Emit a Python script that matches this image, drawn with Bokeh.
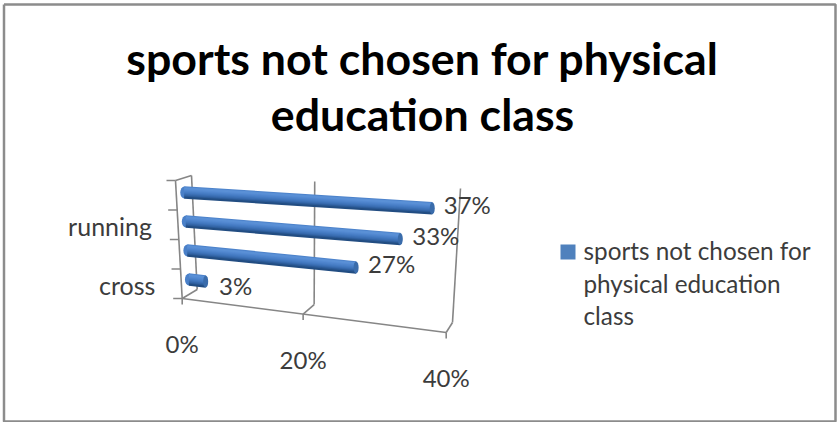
from bokeh.core.properties import value
from bokeh.embed import file_html
from bokeh.models import Range1d
from bokeh.plotting import figure
from bokeh.resources import INLINE

# Chart content
title_lines = ["sports not chosen for physical", "education class"]
categories = ["cross", "", "running", ""]
shares = [3, 27, 33, 37]
axis_ticks = [0, 20, 40]
legend_lines = ["sports not chosen for", "physical education", "class"]

AXIS_MAX = 40
LEVELS = len(categories)
FONT = "Lato"
GREY = "#868686"
TEXT = "#3c3c3c"

# Corners of the 3D plot box on the canvas: (share fraction, height, depth)
BOX = {
    (0, 0, 0): (181.7, 298), (1, 0, 0): (445.7, 332),
    (0, 0, 1): (196.7, 289), (1, 0, 1): (452, 322),
    (0, 1, 0): (175, 180), (1, 1, 0): (453, 197),
    (0, 1, 1): (191, 175), (1, 1, 1): (460, 188),
}
PERSPECTIVE = 1.183


def project(share, level, depth):
    """Map a share, a category level and a depth onto canvas coordinates."""
    u = share / AXIS_MAX
    s = u / (u + PERSPECTIVE * (1 - u)) if u > 0 else 0.0
    h = level / LEVELS
    out = [0.0, 0.0]
    for (a, b, c), corner in BOX.items():
        w = (s if a else 1 - s) * (h if b else 1 - h) * (depth if c else 1 - depth)
        out[0] += w * corner[0]
        out[1] += w * corner[1]
    return out


p = figure(width=840, height=422, output_backend="svg", toolbar_location=None,
           x_range=Range1d(0, 840), y_range=Range1d(422, 0),
           min_border=0, outline_line_color=None, background_fill_color="white")
p.axis.visible = False
p.grid.visible = False


def segment(a, b, width=1.6, color=GREY):
    p.line([a[0], b[0]], [a[1], b[1]], line_color=color, line_width=width)


def label(x, y, text, size, align="center", color=TEXT, style="normal"):
    p.text([x], [y], text=[text], text_font=value(FONT), text_font_size=f"{size}px",
           text_color=color, text_align=align, text_baseline="middle",
           text_font_style=style)


# Outer frame of the chart area
p.line([3.5, 835, 835, 3.5, 3.5], [4, 4, 421, 421, 4], line_color="#8c8c8c", line_width=2.5)

# Title
label(422, 57, title_lines[0], 44.7, color="black", style="bold")
label(422, 113, title_lines[1], 44.7, color="black", style="bold")

# Floor, walls and gridlines of the box
segment(project(0, 0, 0), project(AXIS_MAX, 0, 0))
segment(project(0, 0, 0), project(0, 0, 1))
segment(project(0, 0, 1), project(0, LEVELS, 1))
segment(project(0, 0, 0), project(0, LEVELS, 0))
segment(project(0, LEVELS, 0), project(0, LEVELS, 1))
for tick in axis_ticks[1:]:
    segment(project(tick, 0, 0), project(tick, 0, 1))
    segment(project(tick, 0, 1), project(tick, LEVELS, 1))
for tick in axis_ticks:
    foot = project(tick, 0, 0)
    segment(foot, (foot[0], foot[1] + 6))
for level in range(LEVELS + 1):
    front = project(0, level, 0)
    segment(front, (front[0] - 9, front[1]))

# Cylindrical bars, shaded in overlapping bands across their thickness
BAND_COLORS = ["#4d83cb", "#5a90d6", "#5a90d6", "#548ad2", "#4e84cc", "#487ec6",
               "#4278bf", "#3c70b5", "#3466a8", "#2b5a96", "#224d82"]
for i, share in enumerate(shares):
    start = project(0, i + 0.5, 0.5)
    end = project(share, i + 0.5, 0.5)
    mid_band = (len(BAND_COLORS) - 1) / 2
    p.ellipse([start[0]], [start[1]], width=8, height=12, fill_color="#4a80c8", line_color=None)
    for b, color in enumerate(BAND_COLORS):
        off = (b - mid_band) * 1.05
        p.line([start[0], end[0]], [start[1] + off, end[1] + off],
               line_color=color, line_width=2.1)
    p.ellipse([end[0]], [end[1]], width=5, height=12, fill_color="#3a6cab", line_color=None)

# Value labels beside the bar ends: horizontal and vertical offsets from each end
LABEL_DX = [30, 35.5, 35.5, 35]
LABEL_DY = [3.5, -4, -4, -4]
for i, share in enumerate(shares):
    end = project(share, i + 0.5, 0.5)
    label(end[0] + LABEL_DX[i], end[1] + LABEL_DY[i], f"{share}%", 24)

# Category labels left of the box
for i, name in enumerate(categories):
    if name:
        mid = project(0, i + 0.5, 0)
        label(mid[0] - 26, mid[1] + 1, name, 25, align="right")

# Share axis labels under the floor
for tick in axis_ticks:
    foot = project(tick, 0, 0)
    label(foot[0], foot[1] + 45, f"{tick}%", 24)

# Legend
p.rect([567.5], [251.5], width=15, height=15, fill_color="#4f81bd", line_color=None)
for n, line in enumerate(legend_lines):
    label(583, 250 + n * 32.5, line, 24.3, align="left")

open("out.html", "w").write(file_html(p, INLINE))
